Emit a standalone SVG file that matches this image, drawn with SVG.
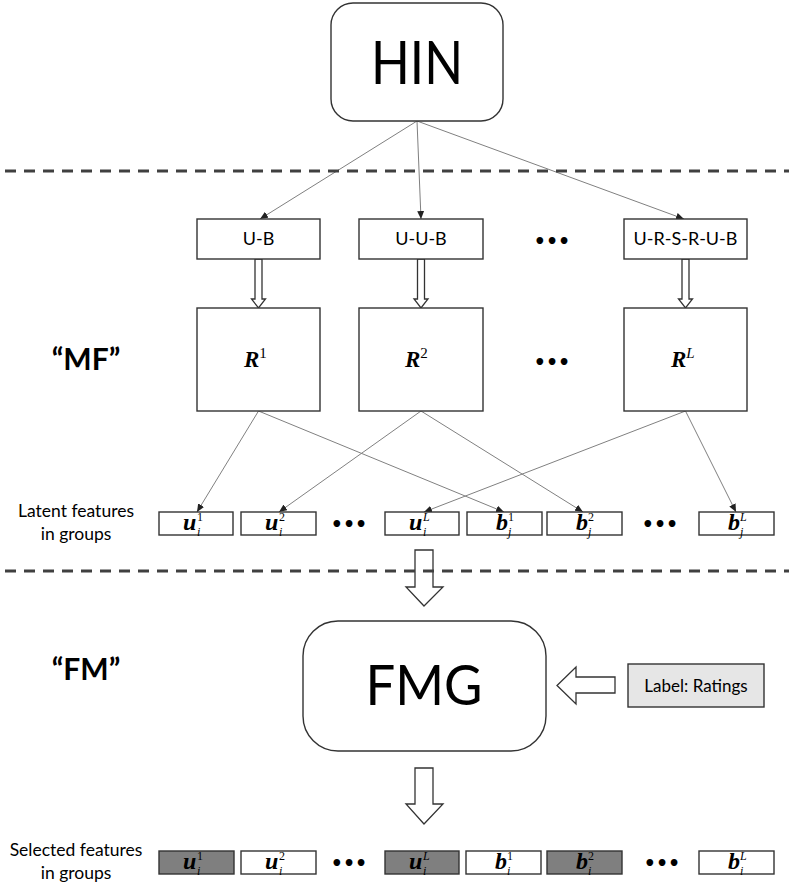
<svg xmlns="http://www.w3.org/2000/svg" width="789" height="888" viewBox="0 0 789 888">
<style>
.box{fill:#fff;stroke:#333;stroke-width:1.4}
.gbox{fill:#7f7f7f;stroke:#333;stroke-width:1.4}
.lbl{font-family:Lato,"Open Sans","Liberation Sans",sans-serif;fill:#000}
.math{font-family:"Liberation Serif","DejaVu Serif",serif;fill:#000}
.bi{font-weight:bold;font-style:italic}
.sub{font-family:"Liberation Serif","DejaVu Serif",serif;font-size:12px;font-style:italic;fill:#000}
.sup{font-family:"Liberation Serif","DejaVu Serif",serif;font-size:12px;fill:#000}
.dash{stroke:#404040;stroke-width:3;stroke-dasharray:11 8;fill:none}
.conn{stroke:#808080;stroke-width:1;fill:none}
.hollow{fill:#fff;stroke:#333;stroke-width:1.3}
.dots{font-family:"DejaVu Sans","Liberation Sans",sans-serif;font-size:19px;font-weight:bold;fill:#000}
</style>
<defs>
<marker id="ah" markerUnits="userSpaceOnUse" markerWidth="8" markerHeight="7" refX="8" refY="3.5" orient="auto">
<path d="M0,0 L8,3.5 L0,7 z" fill="#222"/>
</marker>
</defs>
<rect width="789" height="888" fill="#fff"/>

<g id="connectors">
<line class="conn" x1="417" y1="121" x2="260" y2="219" marker-end="url(#ah)"/>
<line class="conn" x1="417" y1="121" x2="421" y2="219" marker-end="url(#ah)"/>
<line class="conn" x1="417" y1="121" x2="684" y2="219" marker-end="url(#ah)"/>
<line class="conn" x1="258.5" y1="411" x2="197" y2="512" marker-end="url(#ah)"/>
<line class="conn" x1="258.5" y1="411" x2="504" y2="512" marker-end="url(#ah)"/>
<line class="conn" x1="421" y1="411" x2="279" y2="512" marker-end="url(#ah)"/>
<line class="conn" x1="421" y1="411" x2="583" y2="512" marker-end="url(#ah)"/>
<line class="conn" x1="685.5" y1="411" x2="424" y2="512" marker-end="url(#ah)"/>
<line class="conn" x1="685.5" y1="411" x2="736" y2="512" marker-end="url(#ah)"/>
<polygon class="hollow" points="255,259 262,259 262,299 265.5,299 258.5,308 251.5,299 255,299"/>
<polygon class="hollow" points="417.5,259 424.5,259 424.5,299 428,299 421,308 414,299 417.5,299"/>
<polygon class="hollow" points="682,259 689,259 689,299 692.5,299 685.5,308 678.5,299 682,299"/>
<polygon class="hollow" points="415,550 433,550 433,587 443,587 424,606 406,587 415,587"/>
<polygon class="hollow" points="615,677 576,677 576,667 557,685.5 576,704 576,693 615,693"/>
<polygon class="hollow" points="415,768 433,768 433,804 443,804 424,824 406,804 415,804"/>
</g>

<line class="dash" x1="5" y1="171" x2="789" y2="171"/>
<line class="dash" x1="5" y1="571" x2="789" y2="571"/>

<g id="hin">
<rect class="box" x="331" y="3" width="172" height="118" rx="22" ry="22"/>
<text class="lbl" x="417" y="84" font-size="60" text-anchor="middle" textLength="92" lengthAdjust="spacingAndGlyphs">HIN</text>
</g>

<g id="path-ub">
<rect class="box" x="197" y="219" width="123" height="40"/>
<text class="lbl" x="258.5" y="245" font-size="18" text-anchor="middle">U-B</text>
</g>
<g id="path-uub">
<rect class="box" x="359" y="219" width="124" height="40"/>
<text class="lbl" x="421" y="245" font-size="18" text-anchor="middle">U-U-B</text>
</g>
<g id="path-ursrub">
<rect class="box" x="624" y="219" width="123" height="40"/>
<text class="lbl" x="685.5" y="245" font-size="18" text-anchor="middle">U-R-S-R-U-B</text>
</g>
<text class="dots" x="552" y="248" text-anchor="middle">•••</text>

<text class="lbl" x="86" y="370" font-size="30" font-weight="bold" text-anchor="middle">“MF”</text>

<g id="r1">
<rect class="box" x="197" y="308" width="123" height="103"/>
<text class="math" x="244" y="367" font-size="23"><tspan class="bi">R</tspan><tspan font-size="15" dy="-9">1</tspan></text>
</g>
<g id="r2">
<rect class="box" x="359" y="308" width="124" height="103"/>
<text class="math" x="405" y="367" font-size="23"><tspan class="bi">R</tspan><tspan font-size="15" dy="-9">2</tspan></text>
</g>
<g id="rL">
<rect class="box" x="624" y="308" width="123" height="103"/>
<text class="math" x="671" y="367" font-size="23"><tspan class="bi">R</tspan><tspan font-size="15" font-style="italic" dy="-9">L</tspan></text>
</g>
<text class="dots" x="552" y="369" text-anchor="middle">•••</text>

<text class="lbl" font-size="17.5" text-anchor="middle"><tspan x="76" y="517">Latent features</tspan><tspan x="76" y="540">in groups</tspan></text>

<g id="f-u1">
<rect class="box" x="159" y="512" width="74" height="23"/>
<text class="math bi" x="183" y="530" font-size="24">u</text><text class="sub" x="197" y="536">i</text><text class="sup" x="197" y="520.5">1</text>
</g>
<g id="f-u2">
<rect class="box" x="241" y="512" width="75" height="23"/>
<text class="math bi" x="265" y="530" font-size="24">u</text><text class="sub" x="279" y="536">i</text><text class="sup" x="279" y="520.5">2</text>
</g>
<text class="dots" x="349" y="531" text-anchor="middle">•••</text>
<g id="f-uL">
<rect class="box" x="385" y="512" width="74" height="23"/>
<text class="math bi" x="409" y="530" font-size="24">u</text><text class="sub" x="423" y="536">i</text><text class="sub" x="423" y="520.5">L</text>
</g>
<g id="f-b1">
<rect class="box" x="467" y="512" width="75" height="23"/>
<text class="math bi" x="496" y="530" font-size="24">b</text><text class="sub" x="508" y="536">j</text><text class="sup" x="508" y="520.5">1</text>
</g>
<g id="f-b2">
<rect class="box" x="547" y="512" width="75" height="23"/>
<text class="math bi" x="576" y="530" font-size="24">b</text><text class="sub" x="588" y="536">j</text><text class="sup" x="588" y="520.5">2</text>
</g>
<text class="dots" x="660" y="531" text-anchor="middle">•••</text>
<g id="f-bL">
<rect class="box" x="699" y="512" width="75" height="23"/>
<text class="math bi" x="728" y="530" font-size="24">b</text><text class="sub" x="740" y="536">j</text><text class="sub" x="740" y="520.5">L</text>
</g>

<text class="lbl" x="86" y="680" font-size="30" font-weight="bold" text-anchor="middle">“FM”</text>

<g id="fmg">
<rect class="box" x="303" y="621" width="243" height="130" rx="35" ry="35"/>
<text class="lbl" x="424" y="705" font-size="56" text-anchor="middle" textLength="117" lengthAdjust="spacingAndGlyphs">FMG</text>
</g>
<g id="label-ratings">
<rect x="628" y="664" width="136" height="43" fill="#e6e6e6" stroke="#333" stroke-width="1.4"/>
<text class="lbl" x="696" y="692" font-size="17" text-anchor="middle">Label: Ratings</text>
</g>

<text class="lbl" font-size="17.5" text-anchor="middle"><tspan x="76" y="856">Selected features</tspan><tspan x="76" y="879">in groups</tspan></text>

<g id="s-u1">
<rect class="gbox" x="159" y="851" width="75" height="23"/>
<text class="math bi" x="183" y="869" font-size="24">u</text><text class="sub" x="197" y="875">i</text><text class="sup" x="197" y="859.5">1</text>
</g>
<g id="s-u2">
<rect class="box" x="241" y="851" width="75" height="23"/>
<text class="math bi" x="265" y="869" font-size="24">u</text><text class="sub" x="279" y="875">i</text><text class="sup" x="279" y="859.5">2</text>
</g>
<text class="dots" x="349" y="870" text-anchor="middle">•••</text>
<g id="s-uL">
<rect class="gbox" x="385" y="851" width="74" height="23"/>
<text class="math bi" x="409" y="869" font-size="24">u</text><text class="sub" x="423" y="875">i</text><text class="sub" x="423" y="859.5">L</text>
</g>
<g id="s-b1">
<rect class="box" x="466" y="851" width="75" height="23"/>
<text class="math bi" x="495" y="869" font-size="24">b</text><text class="sub" x="507" y="875">i</text><text class="sup" x="507" y="859.5">1</text>
</g>
<g id="s-b2">
<rect class="gbox" x="547" y="851" width="75" height="23"/>
<text class="math bi" x="576" y="869" font-size="24">b</text><text class="sub" x="588" y="875">i</text><text class="sup" x="588" y="859.5">2</text>
</g>
<text class="dots" x="662" y="870" text-anchor="middle">•••</text>
<g id="s-bL">
<rect class="box" x="699" y="851" width="75" height="23"/>
<text class="math bi" x="728" y="869" font-size="24">b</text><text class="sub" x="740" y="875">i</text><text class="sub" x="740" y="859.5">L</text>
</g>
</svg>
